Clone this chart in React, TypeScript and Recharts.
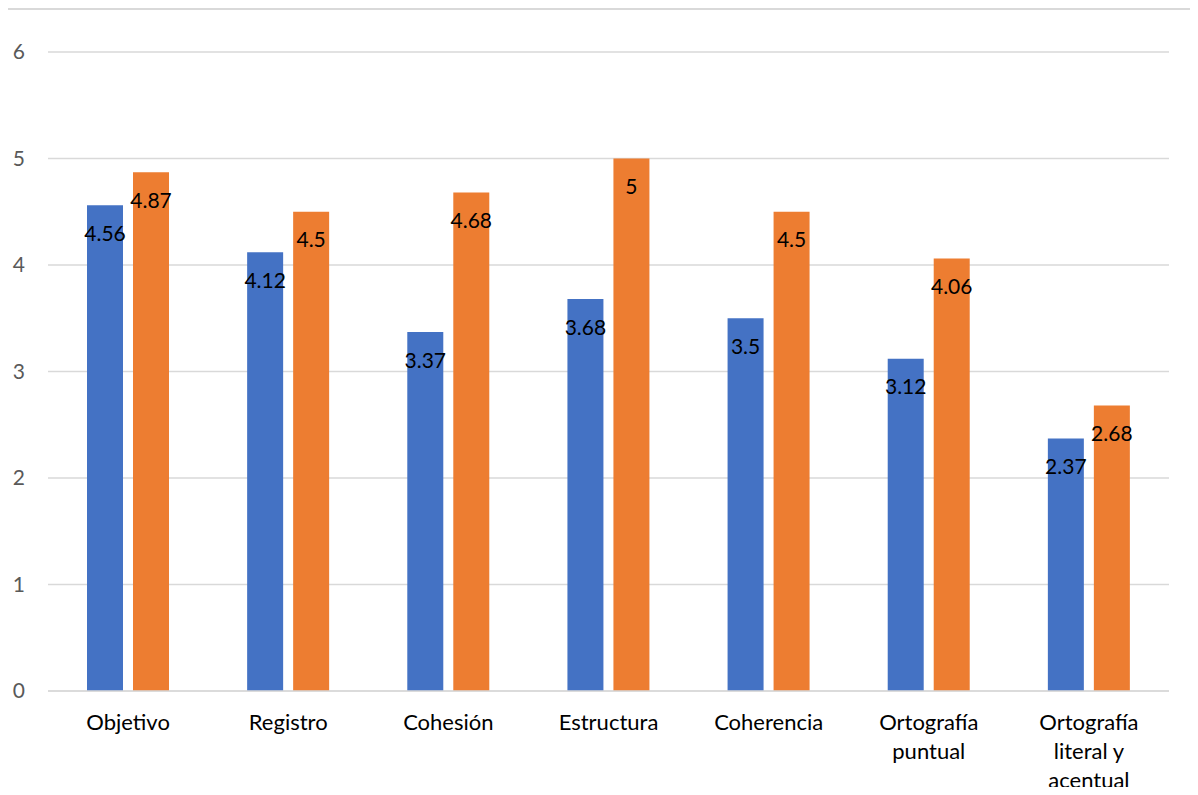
import React from "react";
import { BarChart, Bar, XAxis, YAxis, CartesianGrid, LabelList } from "recharts";

const categories = [
  "Objetivo",
  "Registro",
  "Cohesión",
  "Estructura",
  "Coherencia",
  "Ortografía puntual",
  "Ortografía literal y acentual",
];
const seriesA = [4.56, 4.12, 3.37, 3.68, 3.5, 3.12, 2.37];
const seriesB = [4.87, 4.5, 4.68, 5, 4.5, 4.06, 2.68];
const yTicks = [0, 1, 2, 3, 4, 5, 6];

const data = categories.map((c, i) => ({ name: c, a: seriesA[i], b: seriesB[i] }));

const FONT = "Lato, 'Open Sans', sans-serif";

function wrap(text: string, maxChars: number): string[] {
  const words = text.split(" ");
  const lines: string[] = [];
  let cur = "";
  for (const w of words) {
    const next = cur ? cur + " " + w : w;
    if (next.length > maxChars && cur) {
      lines.push(cur);
      cur = w;
    } else {
      cur = next;
    }
  }
  if (cur) lines.push(cur);
  return lines;
}

const CatTick = (props: any) => {
  const { x, y, payload } = props;
  const lines = wrap(String(payload.value), 12);
  return (
    <text x={x} y={y} textAnchor="middle" fill="#000" fontSize={22} fontFamily={FONT}>
      {lines.map((l, i) => (
        <tspan key={i} x={x} dy={i === 0 ? 31 : 29}>
          {l}
        </tspan>
      ))}
    </text>
  );
};

const ValTick = (props: any) => {
  const { x, y, payload } = props;
  return (
    <text x={x - 15} y={y} dy={7} textAnchor="end" fill="#595959" fontSize={21} fontFamily={FONT}>
      {payload.value}
    </text>
  );
};

const BarLabel = (props: any) => {
  const { x, y, width, value } = props;
  return (
    <text
      x={Number(x) + Number(width) / 2}
      y={Number(y) + 28}
      dy="0.36em"
      textAnchor="middle"
      fill="#000"
      fontSize={21}
      fontFamily={FONT}
    >
      {value}
    </text>
  );
};

export default function App() {
  return (
    <div style={{ position: "relative", width: 1198, height: 795, margin: -8, overflow: "hidden", background: "#fff" }}>
      <div
        style={{
          position: "absolute",
          left: 5,
          top: 8,
          width: 3000,
          height: 3000,
          border: "2px solid #d9d9d9",
        }}
      />
      <div style={{ position: "absolute", left: 0, top: 0 }}>
        <BarChart
          width={1198}
          height={795}
          data={data}
          margin={{ top: 52, right: 29, bottom: 0, left: 0 }}
          barGap={10}
        >
          <CartesianGrid vertical={false} stroke="#d9d9d9" strokeWidth={1.5} />
          <XAxis
            dataKey="name"
            axisLine={{ stroke: "#d9d9d9", strokeWidth: 1.5 }}
            tickLine={false}
            tick={<CatTick />}
            interval={0}
            height={104}
          />
          <YAxis
            domain={[0, 6]}
            ticks={yTicks}
            axisLine={false}
            tickLine={false}
            width={48}
            tick={<ValTick />}
          />
          <Bar dataKey="a" fill="#4472C4" barSize={36} isAnimationActive={false}>
            <LabelList dataKey="a" content={<BarLabel />} />
          </Bar>
          <Bar dataKey="b" fill="#ED7D31" barSize={36} isAnimationActive={false}>
            <LabelList dataKey="b" content={<BarLabel />} />
          </Bar>
        </BarChart>
      </div>
    </div>
  );
}
